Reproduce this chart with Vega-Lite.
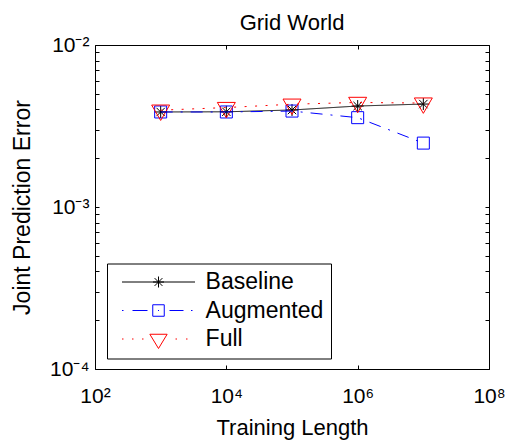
{
  "$schema": "https://vega.github.io/schema/vega-lite/v6.json",
  "width": 394,
  "height": 324,
  "autosize": {"type": "none"},
  "padding": {"left": 95, "top": 45, "right": 21, "bottom": 73},
  "background": "white",
  "config": {
    "font": "Liberation Sans",
    "view": {"stroke": "black", "strokeWidth": 1},
    "axis": {
      "grid": false,
      "domain": false,
      "tickColor": "black",
      "tickSize": -4,
      "tickWidth": 1,
      "labelColor": "black",
      "labelFont": "Liberation Sans",
      "labelFontSize": 21,
      "labelFlush": false,
      "labelOverlap": false,
      "titleFont": "Liberation Sans",
      "titleFontSize": 22,
      "titleFontWeight": "normal",
      "titleColor": "black"
    }
  },
  "title": {
    "text": "Grid World",
    "font": "Liberation Sans",
    "fontSize": 22,
    "fontWeight": "normal",
    "color": "black",
    "anchor": "middle",
    "offset": -1
  },
  "data": {
    "values": [
      {"series": "Baseline", "marker": "Baseline marker", "length": 1000, "error": 0.00386},
      {"series": "Baseline", "marker": "Baseline marker", "length": 10000, "error": 0.00387},
      {"series": "Baseline", "marker": "Baseline marker", "length": 100000, "error": 0.00397},
      {"series": "Baseline", "marker": "Baseline marker", "length": 1000000, "error": 0.0042},
      {"series": "Baseline", "marker": "Baseline marker", "length": 10000000, "error": 0.00432},
      {"series": "Augmented", "marker": "Augmented marker", "length": 1000, "error": 0.00386},
      {"series": "Augmented", "marker": "Augmented marker", "length": 10000, "error": 0.00386},
      {"series": "Augmented", "marker": "Augmented marker", "length": 100000, "error": 0.00391},
      {"series": "Augmented", "marker": "Augmented marker", "length": 1000000, "error": 0.00356},
      {"series": "Augmented", "marker": "Augmented marker", "length": 10000000, "error": 0.00248},
      {"series": "Full", "marker": "Full marker", "length": 1000, "error": 0.00396},
      {"series": "Full", "marker": "Full marker", "length": 10000, "error": 0.00411},
      {"series": "Full", "marker": "Full marker", "length": 100000, "error": 0.00431},
      {"series": "Full", "marker": "Full marker", "length": 1000000, "error": 0.00442},
      {"series": "Full", "marker": "Full marker", "length": 10000000, "error": 0.00438}
    ]
  },
  "layer": [
    {
      "mark": {"type": "point", "filled": false, "size": 144, "strokeWidth": 1, "opacity": 1},
      "encoding": {
        "x": {
          "field": "length", "type": "quantitative",
          "scale": {"type": "log", "domain": [100, 100000000]},
          "axis": {
            "orient": "bottom",
            "values": [100, 10000, 1000000, 100000000],
            "labelExpr": "datum.value == 100 ? '10²' : datum.value == 10000 ? '10⁴' : datum.value == 1000000 ? '10⁶' : '10⁸'",
            "labelPadding": 20,
            "title": "Training Length",
            "titleY": 65,
            "titleBaseline": "alphabetic"
          }
        },
        "y": {
          "field": "error", "type": "quantitative",
          "scale": {"type": "log", "domain": [0.0001, 0.01]},
          "axis": {
            "orient": "left",
            "values": [0.0001, 0.0002, 0.0003, 0.0004, 0.0005, 0.0006, 0.0007, 0.0008, 0.0009, 0.001, 0.002, 0.003, 0.004, 0.005, 0.006, 0.007, 0.008, 0.009, 0.01],
            "labelExpr": "datum.value == 0.01 ? '10⁻²' : datum.value == 0.001 ? '10⁻³' : datum.value == 0.0001 ? '10⁻⁴' : ''",
            "labelPadding": 10,
            "title": "Joint Prediction Error",
            "titleFontSize": 23,
            "titleX": -66,
            "titleBaseline": "alphabetic"
          }
        },
        "color": {
          "field": "series", "type": "nominal",
          "scale": {
            "domain": ["Baseline", "Augmented", "Full", "Baseline marker", "Augmented marker", "Full marker"],
            "range": ["black", "#0000ff", "#ff0000", "black", "#0000ff", "#ff0000"]
          },
          "legend": {
            "orient": "none",
            "legendX": 12,
            "legendY": 218.5,
            "title": null,
            "values": ["Baseline", "Augmented", "Full"],
            "padding": 7,
            "strokeColor": "black",
            "fillColor": "white",
            "labelFont": "Liberation Sans",
            "labelFontSize": 23,
            "labelColor": "black",
            "symbolSize": 100,
            "symbolStrokeWidth": 1,
            "symbolOpacity": 1,
            "symbolFillColor": "transparent",
            "symbolOffset": 33,
            "labelOffset": 35.6,
            "rowPadding": 4.5
          }
        },
        "shape": {
          "field": "marker", "type": "nominal",
          "scale": {
            "domain": ["Baseline", "Augmented", "Full", "Baseline marker", "Augmented marker", "Full marker"],
            "range": [
              "M-7.3,0H7.3M-1.1,0H1.1M0,-1.1V1.1M-0.78,-0.78L0.78,0.78M-0.78,0.78L0.78,-0.78",
              "M-7.3,0H-7M-5.2,0H-2.2M2.2,0H5M6.5,0H6.8M-1.15,-1.15H1.15V1.15H-1.15ZM-0.1,0H0.1",
              "M-7.3,0H-7M-5.3,0H-5M-3.3,0H-3M3.4,0H3.7M5.5,0H5.8M-1.73,-0.95H1.73L0,1.9Z",
              "M-1,0H1M0,-1V1M-0.7,-0.7L0.7,0.7M-0.7,0.7L0.7,-0.7",
              "M-1,-1H1V1H-1Z",
              "M-1.5,-0.857H1.5L0,1.713Z"
            ]
          }
        }
      }
    },
    {
      "mark": {"type": "line", "strokeWidth": 1},
      "encoding": {
        "x": {"field": "length", "type": "quantitative", "axis": null},
        "y": {"field": "error", "type": "quantitative", "axis": null},
        "color": {"field": "series", "type": "nominal"},
        "strokeDash": {
          "field": "series", "type": "nominal",
          "sort": ["Baseline", "Augmented", "Full"],
          "scale": {"range": [[1, 0], [12, 8, 2, 8], [2, 8.5]]},
          "legend": null
        }
      }
    },
    {
      "mark": {"type": "point", "opacity": 0},
      "encoding": {
        "x": {
          "field": "length", "type": "quantitative",
          "axis": {"orient": "top", "values": [100, 10000, 1000000, 100000000], "labels": false, "title": null}
        },
        "y": {
          "field": "error", "type": "quantitative",
          "axis": {
            "orient": "right",
            "values": [0.0001, 0.0002, 0.0003, 0.0004, 0.0005, 0.0006, 0.0007, 0.0008, 0.0009, 0.001, 0.002, 0.003, 0.004, 0.005, 0.006, 0.007, 0.008, 0.009, 0.01],
            "labels": false,
            "title": null
          }
        }
      }
    }
  ],
  "resolve": {"axis": {"x": "independent", "y": "independent"}}
}
